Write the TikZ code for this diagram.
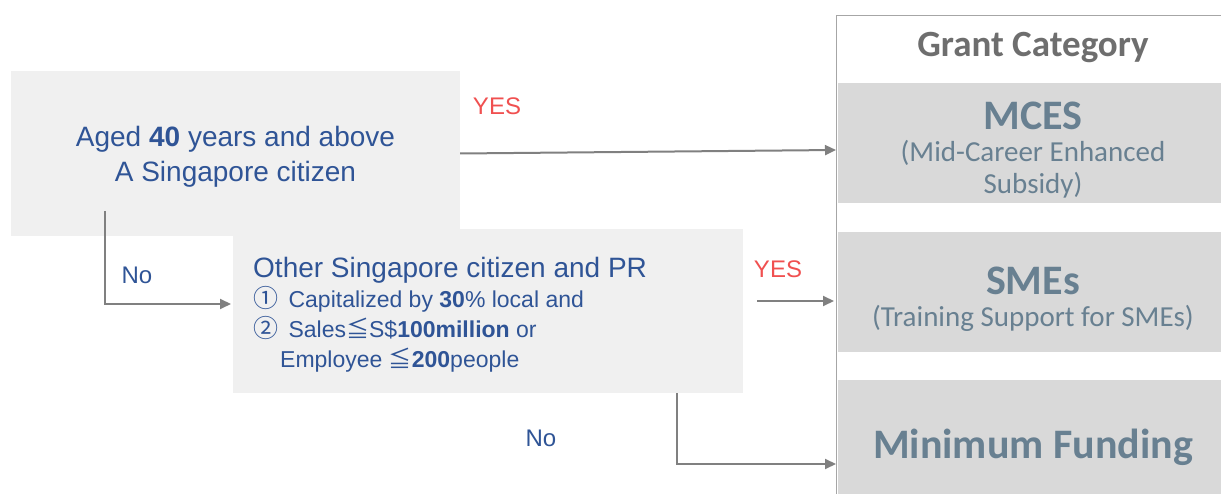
\documentclass[tikz,border=0pt]{standalone}
\usepackage{fontspec}
\setmainfont{Liberation Sans}
\newfontfamily\cali{Carlito}
\newfontfamily\cjk{Noto Sans CJK JP}
\usetikzlibrary{arrows.meta}
\definecolor{boxgray}{RGB}{240,240,240}
\definecolor{bandgray}{RGB}{217,217,217}
\definecolor{txtblue}{RGB}{47,84,150}
\definecolor{txtslate}{RGB}{104,128,145}
\definecolor{headgray}{RGB}{110,110,110}
\definecolor{yesred}{RGB}{240,80,80}
\definecolor{linegray}{RGB}{128,128,128}
\newcommand\fsz[2]{\fontsize{#1}{#2}\selectfont}

\begin{document}
\begin{tikzpicture}[x=1pt,y=-1pt,
    box/.style={fill=boxgray,inner sep=0pt},
    band/.style={fill=bandgray,minimum width=390pt,minimum height=120pt,inner sep=0pt},
    bandtxt/.style={text=txtslate,align=center,font=\cali\fsz{29}{32}},
    flow/.style={draw=linegray,line width=2pt,-{Triangle[length=11pt,width=10pt]}},
    yes/.style={text=yesred,font=\fsz{24}{29}},
    no/.style={text=txtblue,font=\fsz{24}{29}}]
  \useasboundingbox (0,0) rectangle (1221,494);
  % questions
  \node[box,minimum width=449pt,minimum height=165pt] (age) at (235.5,153.5) {};
  \node[text=txtblue,align=center,font=\fsz{28}{35}] (agetxt) at (235.5,156.5)
    {Aged \textbf{40} years and above\\A Singapore citizen};
  \node[box,minimum width=510pt,minimum height=164pt] (other) at (488,311) {};
  \node[anchor=north west,inner sep=0pt,text=txtblue,align=left,font=\fsz{23}{30}]
    (othertxt) at (253,257)
    {{\fsz{28}{31}Other Singapore citizen and PR}\\
     {\cjk\fsz{25}{30}①}\hspace{4pt} Capitalized by \textbf{30}\% local and\\
     {\cjk\fsz{25}{30}②}\hspace{4pt} Sales{\cjk ≦}S\$\textbf{100million} or\\
     \hspace*{27pt}Employee {\cjk ≦}\textbf{200}people};
  % grant category panel
  \draw[linegray!70,line width=1pt] (836,16) rectangle (1240,510);
  \node[text=headgray,font=\cali\bfseries\fsz{37}{42}] (head) at (1033,48) {Grant Category};
  \node[band] (mces) at (1033,143) {};
  \node[bandtxt] (mcestxt) at (1033,150)
    {{\fsz{42}{46}\bfseries MCES}\\(Mid-Career Enhanced\\Subsidy)};
  \node[band] (smes) at (1033,292) {};
  \node[bandtxt] (smestxt) at (1033,299)
    {{\fsz{42}{46}\bfseries SMEs}\\(Training Support for SMEs)};
  \node[band,minimum height=130pt] (minf) at (1033,445) {};
  \node[bandtxt] (minftxt) at (1033,447) {\fsz{42}{46}\bfseries Minimum Funding};
  % arrows
  \coordinate (a1) at (836,150);
  \draw[flow] (age.east) -- (a1);
  \node[yes] (yes1) at (497,106) {YES};
  \coordinate (d1) at (105,211);
  \coordinate (d2) at (231,304);
  \draw[flow] (d1) |- (d2);
  \node[no] (no1) at (137,275) {No};
  \coordinate (s1) at (757,301);
  \coordinate (s2) at (834,301);
  \draw[flow] (s1) -- (s2);
  \node[yes] (yes2) at (778,269) {YES};
  \coordinate (m1) at (677,393);
  \coordinate (m2) at (836,464);
  \draw[flow] (m1) |- (m2);
  \node[no] (no2) at (541,438) {No};
\end{tikzpicture}
\end{document}
